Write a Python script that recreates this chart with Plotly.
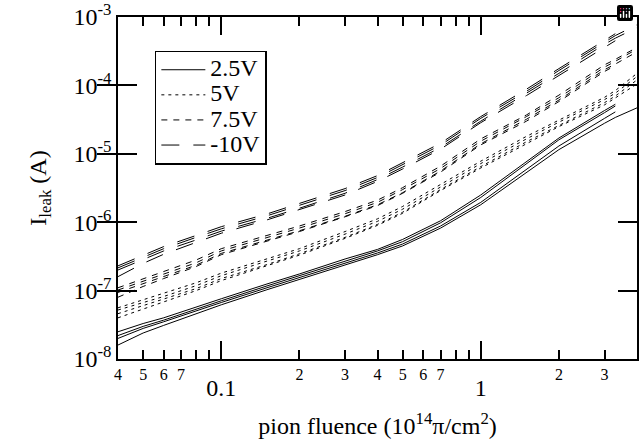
import math
import plotly.graph_objects as go

# ---------------- data ----------------
FLUENCE = [0.04, 0.05, 0.06, 0.08, 0.1, 0.15, 0.2, 0.3, 0.4, 0.5, 0.7, 1.0, 1.5, 2.0, 3.0, 3.3, 4.0]

# 2.5 V (solid)
I_2V5_A = [2.5e-8, 3.3e-8, 4.0e-8, 5.8e-8, 7.6e-8, 1.25e-7, 1.75e-7, 2.9e-7, 4.0e-7, 5.6e-7, 1.05e-6, 2.5e-6, 7.8e-6, 1.7e-5, 4.3e-5, 5.3e-5, None]
I_2V5_B = [2.2e-8, 3.0e-8, 3.7e-8, 5.4e-8, 7.1e-8, 1.17e-7, 1.65e-7, 2.7e-7, 3.8e-7, 5.2e-7, 9.8e-7, 2.3e-6, 7.2e-6, 1.6e-5, 4.0e-5, 5.0e-5, None]
I_2V5_C = [2.0e-8, 2.8e-8, 3.5e-8, 5.1e-8, 6.7e-8, 1.1e-7, 1.55e-7, 2.55e-7, 3.55e-7, 4.8e-7, 8.8e-7, 1.95e-6, 6.0e-6, 1.3e-5, 3.3e-5, 4.1e-5, None]
I_2V5_D = [1.6e-8, 2.4e-8, 3.1e-8, 4.6e-8, 6.2e-8, 1.03e-7, 1.45e-7, 2.4e-7, 3.35e-7, 4.5e-7, 8.2e-7, 1.8e-6, 5.3e-6, 1.15e-5, 2.8e-5, 3.4e-5, 4.7e-5]

# 5 V (dotted)
I_5V_A = [5.6e-8, 7.3e-8, 9.0e-8, 1.3e-7, 1.8e-7, 2.9e-7, 4.1e-7, 7.3e-7, 1.12e-6, 1.7e-6, 3.6e-6, 7.8e-6, 1.8e-5, 3.1e-5, 6.7e-5, 8.4e-5, 1.5e-4]
I_5V_B = [5.2e-8, 6.7e-8, 8.2e-8, 1.18e-7, 1.65e-7, 2.7e-7, 3.8e-7, 6.7e-7, 1.03e-6, 1.55e-6, 3.3e-6, 7.2e-6, 1.65e-5, 2.9e-5, 6.2e-5, 7.7e-5, 1.35e-4]
I_5V_C = [4.6e-8, 6.0e-8, 7.4e-8, 1.07e-7, 1.5e-7, 2.4e-7, 3.45e-7, 6.0e-7, 9.3e-7, 1.4e-6, 3.0e-6, 6.5e-6, 1.5e-5, 2.6e-5, 5.6e-5, 7.0e-5, 1.2e-4]
I_5V_D = [4.0e-8, 5.4e-8, 6.9e-8, 1.0e-7, 1.4e-7, 2.3e-7, 3.3e-7, 5.8e-7, 9.0e-7, 1.35e-6, 2.9e-6, 6.2e-6, 1.4e-5, 2.5e-5, 5.2e-5, 6.5e-5, 1.05e-4]

# 7.5 V (dashed)
I_7V5_A = [1.1e-7, 1.5e-7, 1.9e-7, 2.8e-7, 4.1e-7, 6.4e-7, 8.8e-7, 1.43e-6, 2.1e-6, 3.2e-6, 6.6e-6, 1.65e-5, 3.7e-5, 7.2e-5, 2.0e-4, 2.4e-4, 3.6e-4]
I_7V5_B = [1.02e-7, 1.38e-7, 1.73e-7, 2.55e-7, 3.8e-7, 5.9e-7, 8.2e-7, 1.33e-6, 1.95e-6, 3.0e-6, 6.1e-6, 1.53e-5, 3.5e-5, 6.6e-5, 1.85e-4, 2.25e-4, 3.4e-4]
I_7V5_C = [9.4e-8, 1.27e-7, 1.6e-7, 2.35e-7, 3.5e-7, 5.5e-7, 7.5e-7, 1.22e-6, 1.8e-6, 2.7e-6, 5.6e-6, 1.4e-5, 3.2e-5, 6.1e-5, 1.7e-4, 2.05e-4, 3.1e-4]
I_7V5_D = [8.0e-8, 1.15e-7, 1.5e-7, 2.25e-7, 3.35e-7, 5.3e-7, 7.3e-7, 1.2e-6, 1.75e-6, 2.65e-6, 5.4e-6, 1.35e-5, 3.0e-5, 5.8e-5, 1.6e-4, 1.95e-4, None]

# -10 V (long dash)
I_10V_A = [2.3e-7, 3.3e-7, 4.4e-7, 6.4e-7, 8.6e-7, 1.32e-6, 1.87e-6, 3.1e-6, 4.8e-6, 7.4e-6, 1.43e-5, 3.5e-5, 8.8e-5, 1.76e-4, 4.6e-4, 5.7e-4, None]
I_10V_B = [2.15e-7, 3.1e-7, 4.1e-7, 6.0e-7, 8.0e-7, 1.24e-6, 1.75e-6, 2.9e-6, 4.5e-6, 6.9e-6, 1.34e-5, 3.3e-5, 8.2e-5, 1.65e-4, 4.3e-4, 5.35e-4, 7.7e-4]
I_10V_C = [2.0e-7, 2.85e-7, 3.8e-7, 5.5e-7, 7.4e-7, 1.14e-6, 1.6e-6, 2.65e-6, 4.2e-6, 6.4e-6, 1.24e-5, 3.0e-5, 7.6e-5, 1.5e-4, 4.0e-4, 4.9e-4, 7.0e-4]
I_10V_D = [1.6e-7, 2.5e-7, 3.4e-7, 5.1e-7, 6.9e-7, 1.08e-6, 1.52e-6, 2.5e-6, 3.95e-6, 6.0e-6, 1.17e-5, 2.85e-5, 7.1e-5, 1.4e-4, 3.7e-4, 4.5e-4, None]

SERIES_NAMES = ["2.5V", "5V", "7.5V", "-10V"]
SERIES_CURVES = [
    [I_2V5_A, I_2V5_B, I_2V5_C, I_2V5_D],
    [I_5V_A, I_5V_B, I_5V_C, I_5V_D],
    [I_7V5_A, I_7V5_B, I_7V5_C, I_7V5_D],
    [I_10V_A, I_10V_B, I_10V_C, I_10V_D],
]

X_MINOR_TICKS = [0.04, 0.05, 0.06, 0.07, 0.08, 0.09,
                 0.2, 0.3, 0.4, 0.5, 0.6, 0.7, 0.8, 0.9,
                 2, 3, 4]
X_MINOR_LABELS = ["4", "5", "6", "7", "", "",
                  "2", "3", "4", "5", "6", "7", "", "",
                  "2", "3", "4"]
X_MAJOR_TICKS = [0.1, 1]
X_MAJOR_LABELS = ["0.1", "1"]
Y_TICKS = [1e-8, 1e-7, 1e-6, 1e-5, 1e-4, 1e-3]
Y_LABELS = ["10<sup>-8</sup>", "10<sup>-7</sup>", "10<sup>-6</sup>",
            "10<sup>-5</sup>", "10<sup>-4</sup>", "10<sup>-3</sup>"]

# ---------------- styling ----------------
FONT = "Liberation Serif, Times New Roman, serif"
DASHES = ["solid", "3px,4px", "6px,6px", "18px,14px"]

fig = go.Figure()
for name, curves, dash in zip(SERIES_NAMES, SERIES_CURVES, DASHES):
    for k, ys in enumerate(curves):
        fig.add_trace(go.Scatter(
            x=FLUENCE, y=ys, mode="lines",
            name='<span style="font-size:24px">%s</span>' % name,
            legendgroup=name, showlegend=(k == 0),
            line=dict(color="black", width=1, dash=dash),
            connectgaps=False, hoverinfo="skip",
        ))

# invisible helper trace to hold the secondary x axis (major labels)
fig.add_trace(go.Scatter(x=[0.1], y=[1e-5], xaxis="x2", mode="markers",
                         marker=dict(opacity=0), showlegend=False, hoverinfo="skip"))

xr = [math.log10(0.04), math.log10(4)]
fig.update_layout(
    width=639, height=448,
    margin=dict(l=118, r=0, t=17, b=89),
    paper_bgcolor="white", plot_bgcolor="white",
    font=dict(family=FONT, color="black", size=24),
    showlegend=True,
    modebar=dict(bgcolor="rgba(0,0,0,0)", color="rgba(0,0,0,0)",
                 activecolor="rgba(0,0,0,0)"),
    legend=dict(
        x=0.071, y=0.9015, xanchor="left", yanchor="top",
        bgcolor="white", bordercolor="black", borderwidth=1.5,
        font=dict(family=FONT, size=17, color="black"),
        tracegroupgap=0, itemwidth=44,
    ),
    xaxis=dict(
        type="log", range=xr,
        tickmode="array", tickvals=X_MINOR_TICKS, ticktext=X_MINOR_LABELS,
        ticks="inside", ticklen=9, tickwidth=1.5, tickcolor="black",
        tickfont=dict(family=FONT, size=16, color="black"),
        showline=True, linecolor="black", linewidth=1.5, mirror="allticks",
        showgrid=False, zeroline=False,
        title=dict(text="pion fluence (10<sup>14</sup>π/cm<sup>2</sup>)",
                   font=dict(family=FONT, size=24, color="black"), standoff=35),
    ),
    xaxis2=dict(
        type="log", range=xr, overlaying="x", anchor="y", side="bottom",
        tickmode="array", tickvals=X_MAJOR_TICKS, ticktext=X_MAJOR_LABELS,
        ticks="inside", ticklen=18, tickwidth=1.5, tickcolor="black",
        tickfont=dict(family=FONT, size=24, color="black"),
        ticklabelstandoff=12,
        showline=False, mirror="ticks",
        showgrid=False, zeroline=False,
    ),
    yaxis=dict(
        type="log", range=[-8, -3],
        tickmode="array", tickvals=Y_TICKS, ticktext=Y_LABELS,
        ticks="inside", ticklen=19, tickwidth=1.5, tickcolor="black",
        tickfont=dict(family=FONT, size=24, color="black"),
        showline=True, linecolor="black", linewidth=1.5, mirror="allticks",
        showgrid=False, zeroline=False,
        title=dict(text="I<sub>leak</sub> (A)",
                   font=dict(family=FONT, size=24, color="black"), standoff=20),
    ),
)

fig.write_html("out.html", post_script="document.body.style.margin='0px';")
